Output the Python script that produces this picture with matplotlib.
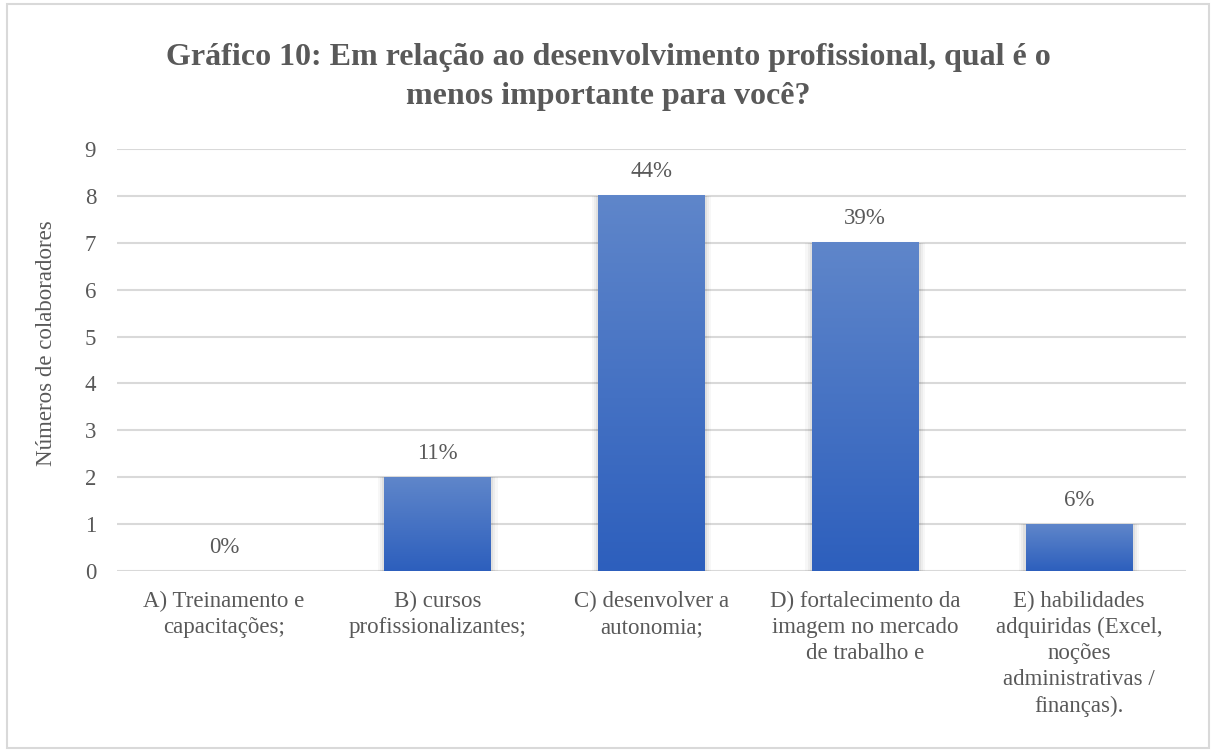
import numpy as np
import matplotlib
matplotlib.use('Agg')
import matplotlib.pyplot as plt
from matplotlib.patches import Rectangle
from matplotlib.colors import LinearSegmentedColormap

categorias = ['A) Treinamento e\ncapacitações;',
              'B) cursos\nprofissionalizantes;',
              'C) desenvolver a\nautonomia;',
              'D) fortalecimento da\nimagem no mercado\nde trabalho e',
              'E) habilidades\nadquiridas (Excel,\nnoções\nadministrativas /\nfinanças).']
valores = [0, 2, 8, 7, 1]
rotulos = ['0%', '11%', '44%', '39%', '6%']
yticks = list(range(0, 10))

cinza = '#595959'
plt.rcParams['font.family'] = ['Liberation Serif', 'DejaVu Serif']

fig = plt.figure(figsize=(12.16, 7.56), dpi=100)
ax = fig.add_axes([0.0962, 0.2447, 0.8791, 0.5582])

# borda externa do gráfico
fig.patches.append(Rectangle((0.006, 0.01), 0.988, 0.985, transform=fig.transFigure,
                             fill=False, edgecolor='#d9d9d9', linewidth=1.5))

grad = LinearSegmentedColormap.from_list('azul', ['#2d5fbd', '#5f86ca'])
img = np.linspace(0, 1, 256).reshape(-1, 1)
largura = 0.5
for i, v in enumerate(valores):
    if v <= 0:
        continue
    x0, x1 = i - largura / 2, i + largura / 2
    # sombra difusa
    for k, a in [(0.03, 0.03), (0.02, 0.04), (0.01, 0.05)]:
        ax.add_patch(Rectangle((x0 - k, -0.02), largura + 2 * k, v + 0.02, facecolor='#000000',
                               alpha=a, linewidth=0, zorder=2))
    ax.imshow(img, cmap=grad, aspect='auto', origin='lower',
              extent=(x0, x1, 0, v), zorder=3)
for i, (v, r) in enumerate(zip(valores, rotulos)):
    ax.annotate(r, (i, v), xytext=(0, 24), textcoords='offset pixels',
                ha='center', va='center', fontsize=16.5, color=cinza)

ax.set_xlim(-0.5, 4.5)
ax.set_ylim(0, 9)
ax.set_yticks(yticks)
ax.yaxis.grid(True, color='#d9d9d9', linewidth=1.5, zorder=0)
ax.set_axisbelow(True)
for s in ax.spines.values():
    s.set_visible(False)
ax.tick_params(axis='both', length=0, labelsize=16.5, labelcolor=cinza)
ax.tick_params(axis='y', pad=15)
ax.set_xticks(range(len(categorias)))
ax.set_xticklabels(categorias, linespacing=1.32)
ax.tick_params(axis='x', pad=14)
ax.set_ylabel('Números de colaboradores', fontsize=16.5, color=cinza)
ax.yaxis.set_label_coords(-0.056, 0.54)

fig.text(0.5, 0.8985, 'Gráfico 10: Em relação ao desenvolvimento profissional, qual é o\nmenos importante para você?',
         ha='center', va='center', fontsize=23, fontweight='bold', color=cinza,
         linespacing=1.45)

fig.savefig('out.png', dpi=100)
